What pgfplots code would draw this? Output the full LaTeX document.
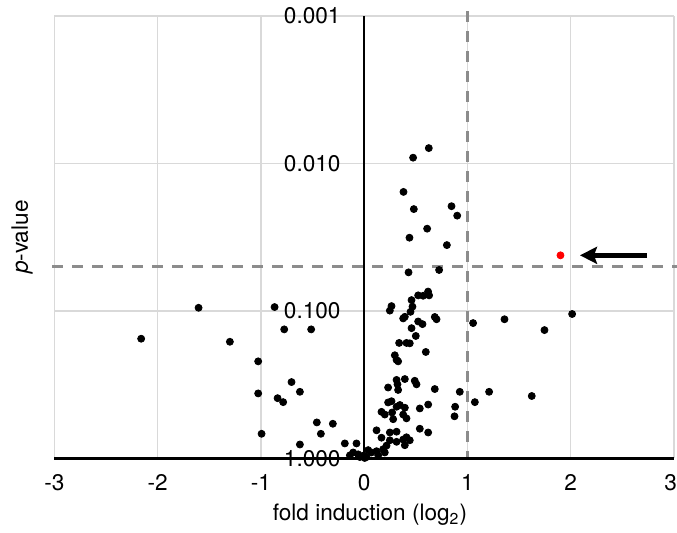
\documentclass[border=0pt]{standalone}
\usepackage{fontspec}
\setmainfont{TeX Gyre Heros}
\usepackage{pgfplots}
\pgfplotsset{compat=1.18}
\usetikzlibrary{arrows.meta}
\definecolor{gridgray}{HTML}{D9D9D9}
\definecolor{dashgray}{HTML}{8C8C8C}
\definecolor{hitred}{HTML}{FF0000}

\begin{document}
\begin{tikzpicture}
\fontsize{11.3}{13.5}\selectfont
\begin{axis}[
  at={(0,0)}, anchor=south west,
  scale only axis,
  width=309.85pt, height=221.15pt,
  xmin=-3, xmax=3,
  ymode=log, ymin=0.001, ymax=1,
  y dir=reverse,
  clip=false,
  axis line style={draw=none},
  tick style={draw=none},
  major tick length=0pt,
  xtick={-3,-2,-1,0,1,2,3},
  xticklabels={-3,-2,-1,0,1,2,\hspace{-3.4pt}3},
  ytick={0.001,0.01,0.1,1},
  yticklabels={0.001,0.010,0.100,1.000},
  minor ytick={},
  xtick pos=bottom, ytick pos=left,
  /pgf/number format/assume math mode=true,
  grid=major,
  major grid style={draw=gridgray, line width=0.75pt},
  xticklabel style={font=\fontsize{11.3}{13.5}\selectfont, inner sep=0pt, anchor=north, yshift=-7.85pt},
  yticklabel style={font=\fontsize{11.3}{13.5}\selectfont, inner sep=0pt, anchor=east, xshift=143.3pt},
  xlabel={fold induction (log\textsubscript{2})},
  ylabel={\textit{p}-value},
  xlabel style={at={(axis description cs:0.5094,-0.1282)}, anchor=center, font=\fontsize{11.3}{13.5}\selectfont},
  ylabel style={at={(axis description cs:-0.0521,0.5)}, anchor=center, rotate=0, font=\fontsize{11.3}{13.5}\selectfont},
]
% threshold lines
\addplot[forget plot, draw=dashgray, line width=1.4pt, dash pattern=on 5.5pt off 4.5pt] coordinates {(-3.02,0.05) (3.03,0.05)};
\addplot[forget plot, draw=dashgray, line width=1.4pt, dash pattern=on 5.5pt off 4.5pt] coordinates {(1,0.00093) (1,1)};
% axes
\addplot[forget plot, draw=black, line width=1pt] coordinates {(0,0.001) (0,1)};
\addplot[forget plot, draw=black, line width=1.3pt] coordinates {(-3,1) (3,1)};
% genes
\addplot[only marks, mark=*, mark size=1.75pt, black] table {
x p
0.474 0.00914
0.626 0.00787
0.381 0.0156
0.481 0.0204
0.846 0.0195
0.901 0.0226
0.610 0.0277
0.439 0.0319
0.801 0.0358
0.430 0.0548
0.726 0.0528
0.265 0.0928
0.249 0.0996
0.459 0.0845
0.523 0.0785
0.571 0.0790
0.619 0.0740
0.629 0.0785
0.468 0.0936
0.449 0.1015
0.394 0.1097
0.378 0.1125
0.684 0.110
0.701 0.114
0.523 0.118
0.565 0.123
0.459 0.131
0.500 0.148
0.339 0.165
0.410 0.165
0.442 0.166
0.597 0.190
0.297 0.200
0.314 0.215
0.329 0.220
0.314 0.294
0.394 0.290
0.490 0.298
0.323 0.315
0.329 0.344
0.232 0.331
0.684 0.339
0.507 0.315
0.232 0.418
0.265 0.410
0.314 0.447
0.168 0.484
0.200 0.505
0.271 0.489
0.346 0.435
0.394 0.454
0.378 0.505
0.281 0.543
0.410 0.536
0.539 0.459
0.620 0.432
0.120 0.646
0.249 0.668
0.314 0.660
0.168 0.725
0.249 0.755
0.314 0.773
0.378 0.746
0.410 0.720
0.442 0.755
0.394 0.815
0.539 0.630
0.620 0.668
-0.187 0.793
-0.074 0.793
-0.106 0.913
-0.058 0.940
-0.010 0.960
0.039 0.880
0.071 0.913
0.120 0.895
0.184 0.868
0.217 0.820
0.200 0.913
-0.138 0.955
0.023 0.980
-0.042 0.980
0.136 0.955
0.005 0.995
1.055 0.121
1.359 0.114
1.746 0.135
2.014 0.105
1.210 0.354
1.623 0.378
1.072 0.416
0.926 0.354
0.881 0.447
0.875 0.519
-1.603 0.0953
-0.867 0.0942
-2.159 0.1545
-1.300 0.162
-0.774 0.1335
-0.513 0.1335
-1.026 0.220
-0.703 0.304
-0.622 0.354
-1.026 0.363
-0.838 0.391
-0.784 0.416
-0.993 0.682
-0.458 0.571
-0.303 0.583
-0.419 0.682
-0.622 0.806
};
% highlighted gene
\addplot[only marks, mark=*, mark size=1.75pt, hitred] coordinates {(1.901,0.042)};
% arrow pointing at it
\addplot[forget plot, draw=black, line width=2.5pt, -{Stealth[length=8.5pt, width=8.5pt, inset=1.5pt]}] coordinates {(2.74,0.042) (2.09,0.042)};
\end{axis}
\pgfresetboundingbox
\path[use as bounding box] (-27.15pt,-36.85pt) rectangle (311.35pt,229.15pt);
\end{tikzpicture}
\end{document}
